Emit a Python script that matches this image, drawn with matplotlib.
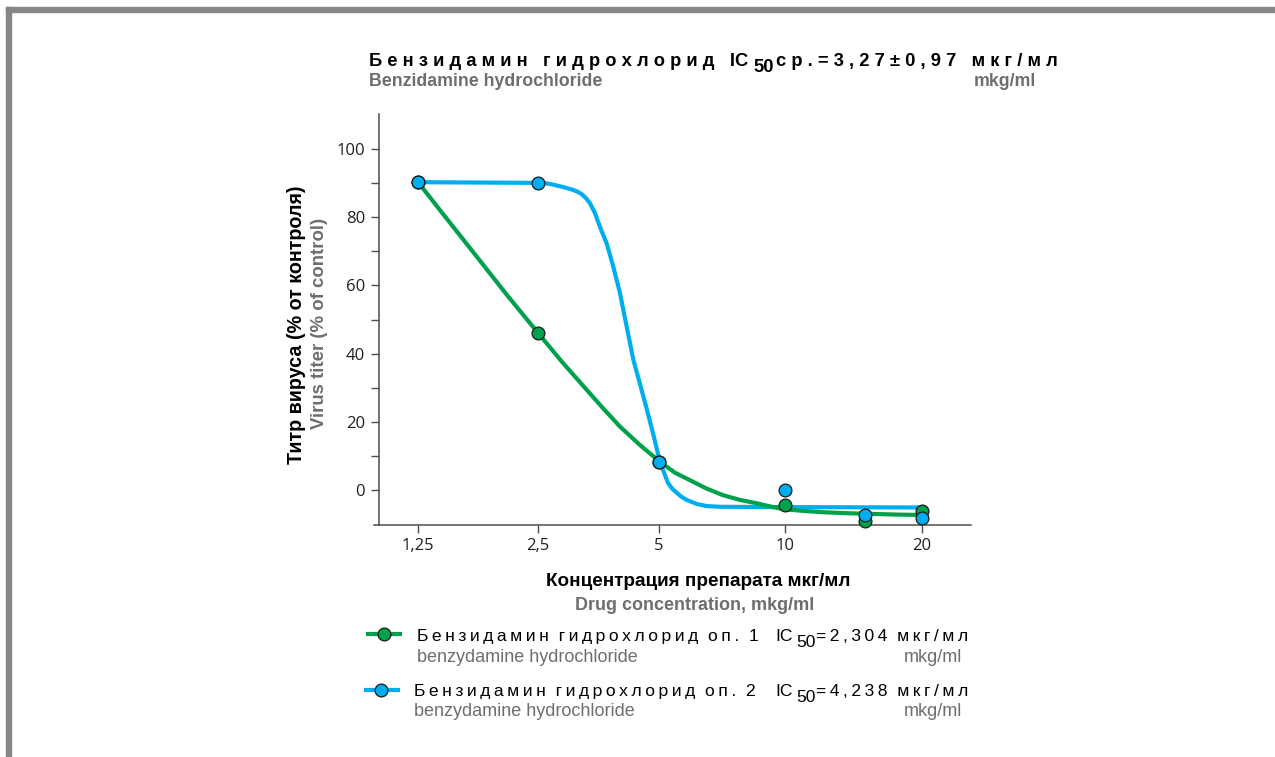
import numpy as np
import matplotlib
matplotlib.use("Agg")
import matplotlib.pyplot as plt
from matplotlib.patches import Rectangle
from matplotlib.lines import Line2D

# ---------------- data ----------------
conc_ticks = [1.25, 2.5, 5, 10, 20]
conc_tick_labels = ["1,25", "2,5", "5", "10", "20"]
titer_major = [0, 20, 40, 60, 80, 100]
titer_minor = [10, 30, 50, 70, 90]

exp1_conc = [1.25, 2.5, 5, 10, 15, 20]
exp1_titer = [90.3, 46.1, 8.2, -4.4, -9.0, -6.2]
exp2_conc = [1.25, 2.5, 5, 10, 15, 20]
exp2_titer = [90.3, 90.0, 8.2, 0.0, -7.4, -8.3]

fit1_conc = [1.25, 1.478, 1.757, 2.090, 2.5, 2.870, 3.314, 3.634, 4.007, 4.495,
             5.04, 5.47, 5.94, 6.49, 7.12, 7.82, 8.58, 9.21, 9.89, 10.95, 12.12,
             13.75, 15.61, 17.71, 20]
fit1_titer = [90.3, 79.5, 68.4, 57.2, 46.1, 37.6, 29.3, 24.0, 18.6, 13.2,
              8.3, 5.1, 2.9, 0.5, -1.5, -2.9, -3.9, -4.8, -5.6, -6.1, -6.5,
              -6.8, -7.0, -7.2, -7.3]

fit2_conc = [1.25, 2.5, 2.578, 2.70, 2.837, 2.95, 3.063, 3.14, 3.214, 3.29, 3.372,
             3.47, 3.571, 3.712, 3.855, 4.007, 4.164, 4.325, 4.495, 4.68, 4.872,
             5.04, 5.267, 5.38, 5.504, 5.66, 5.836, 6.175, 6.511, 7.003, 10, 20]
fit2_titer = [90.3, 90.1, 90.1, 89.7, 89.1, 88.6, 88.0, 87.5, 86.8, 85.7, 84.1,
              81.2, 77.2, 72.3, 65.5, 57.7, 47.9, 38.3, 31.1, 23.5, 15.5,
              8.2, 2.1, 0.5, -0.6, -1.9, -2.9, -4.1, -4.7, -4.9, -5.0, -5.1]

GREEN = "#00a14b"
BLUE = "#00aeef"
GRAY = "#6d6e71"
DARK = "#231f20"

W, H = 1275, 757
fig = plt.figure(figsize=(W / 100, H / 100), dpi=100)
fig.patch.set_facecolor("white")

# gray frame (top and left bands)
fig.patches.append(Rectangle((6 / W, 0), 5 / W, 1 - 7 / H, transform=fig.transFigure,
                             color="#858688", zorder=0))
fig.patches.append(Rectangle((6 / W, 1 - 12 / H), 1 - 6 / W, 5 / H, transform=fig.transFigure,
                             color="#858688", zorder=0))


def P(x, y):
    return (x / W, 1 - y / H)


# axes
ax_l, ax_r, ax_t, ax_b = 374, 971, 114, 524.5
ax = fig.add_axes([ax_l / W, 1 - ax_b / H, (ax_r - ax_l) / W, (ax_b - ax_t) / H])

# piecewise log scale to follow the uneven tick spacing of the original
tick_px = np.array([418, 538, 658.5, 785, 922.0])
Lk = np.log2(np.array(conc_ticks, dtype=float))
Lext = np.concatenate([[Lk[0] - 1], Lk, [Lk[-1] + 1]])
Pext = np.concatenate([[tick_px[0] - 120], tick_px, [tick_px[-1] + 137]])


def fwd(x):
    x = np.asarray(x, dtype=float)
    return np.interp(np.log2(np.clip(x, 1e-6, None)), Lext, Pext)


def inv(p):
    p = np.asarray(p, dtype=float)
    return 2 ** np.interp(p, Pext, Lext)


ax.set_xscale("function", functions=(fwd, inv))
ax.set_xlim(inv(ax_l), inv(ax_r))
ax.set_ylim(-10.1, 110.3)

ax.plot(fit2_conc, fit2_titer, color=BLUE, lw=3.0, solid_capstyle="butt",
        solid_joinstyle="round", zorder=2)
ax.plot(fit1_conc, fit1_titer, color=GREEN, lw=3.0, solid_capstyle="butt",
        solid_joinstyle="round", zorder=3)
ax.plot(exp1_conc, exp1_titer, "o", color=GREEN, ms=9.2, mec="#1a1a1a", mew=0.9, zorder=4, clip_on=False)
ax.plot(exp2_conc, exp2_titer, "o", color=BLUE, ms=9.2, mec="#1a1a1a", mew=0.9, zorder=5, clip_on=False)

for s in ["top", "right"]:
    ax.spines[s].set_visible(False)
ax.spines["left"].set_position(("axes", 5 / (ax_r - ax_l)))
for s in ["left", "bottom"]:
    ax.spines[s].set_color("#4d4d4d")
    ax.spines[s].set_linewidth(1.1)

ax.set_xticks(conc_ticks)
ax.set_xticklabels(conc_tick_labels)
ax.xaxis.set_minor_locator(matplotlib.ticker.NullLocator())
ax.set_yticks(titer_major)
ax.set_yticks(titer_minor, minor=True)
ax.tick_params(axis="both", which="both", direction="out", length=6, width=1.0,
               color="#4d4d4d", labelcolor=DARK, labelsize=12, pad=4)
for lab in ax.get_xticklabels() + ax.get_yticklabels():
    lab.set_family(["Open Sans", "DejaVu Sans"])

BF = ["Liberation Sans", "DejaVu Sans"]


def spaced(s, sep=" ", wsep="   "):
    return wsep.join(sep.join(list(w)) for w in s.split(" "))


def chain(prev_x, prev_y, s, dx=0, dy=0, **kw):
    return plt.annotate(
        s, xy=(1, 0), xycoords=(prev_x, prev_y), xytext=(dx, dy),
        textcoords="offset points", ha="left", va="bottom", annotation_clip=False, **kw)


# ---------------- title ----------------
TS = 13.2
t1 = fig.text(*P(369, 66), spaced("Бензидамин гидрохлорид") + "   IC",
              family=BF, weight="bold", size=TS, color="black", va="baseline")
t2 = chain(t1, t1, "50", dx=4, dy=-4, family=BF, weight="bold", size=TS, color="black")
t3 = chain(t2, t1, spaced("ср.=3,27±0,97") + "   " + spaced("мкг/мл"), dx=1, dy=0,
           family=BF, weight="bold", size=TS, color="black")
fig.text(*P(369, 86), "Benzidamine hydrochloride", family=BF, weight="bold", size=12.8,
         color=GRAY, va="baseline")
fig.text(*P(1036, 86), "mkg/ml", family=BF, weight="bold", size=12.8,
         color=GRAY, va="baseline", ha="right")

# ---------------- axis labels ----------------
fig.text(*P(297, 325), "Титр вируса (% от контроля)",
         family=BF, weight="bold", size=14.2, color="black", rotation=90,
         ha="center", va="center")
fig.text(*P(320, 323), "Virus titer (% of control)", family=BF, weight="bold", size=13.4,
         color=GRAY, rotation=90, ha="center", va="center")

fig.text(*P(698, 586), "Концентрация препарата мкг/мл", family=BF, weight="bold",
         size=13.6, color="black", ha="center", va="baseline")
fig.text(*P(695, 610), "Drug concentration, mkg/ml", family=BF, weight="bold",
         size=13, color=GRAY, ha="center", va="baseline")

# ---------------- legend ----------------
rows = [
    (GREEN, 634, 368, 400, 384, 641, 417, "оп. 1", "=2,304", 662),
    (BLUE, 690, 366, 398, 381, 696, 414, "оп. 2", "=4,238", 716),
]
LS = 12.6
for col, ly, x0, x1, xm, base, tx, op, val, base2 in rows:
    fig.lines.append(Line2D([x0 / W, x1 / W], [1 - ly / H, 1 - ly / H], transform=fig.transFigure,
                            color=col, lw=3.0))
    fig.lines.append(Line2D([xm / W], [1 - ly / H], transform=fig.transFigure, marker="o",
                            color=col, ms=9.2, mec="#1a1a1a", mew=0.9))
    fig.text(*P(tx, base), spaced("Бензидамин гидрохлорид " + op, sep="\u2009", wsep="  "),
             family=BF, size=LS, color="black", va="baseline")
    ic = fig.text(*P(775, base), "IC", family=BF, size=LS, color="black", va="baseline")
    sub = chain(ic, ic, "50", dx=2.5, dy=-4, family=BF, size=LS, color="black")
    chain(sub, ic, spaced(val, sep="\u2009") + "  " + spaced("мкг/мл", sep="\u2009"), dx=0.5, dy=0,
          family=BF, size=LS, color="black")
    fig.text(*P(tx, base2), "benzydamine hydrochloride", family=BF, size=13,
             color=GRAY, va="baseline")
    fig.text(*P(962, base2), "mkg/ml", family=BF, size=13, color=GRAY, va="baseline",
             ha="right")

fig.savefig("out.png", dpi=100, facecolor="white")
